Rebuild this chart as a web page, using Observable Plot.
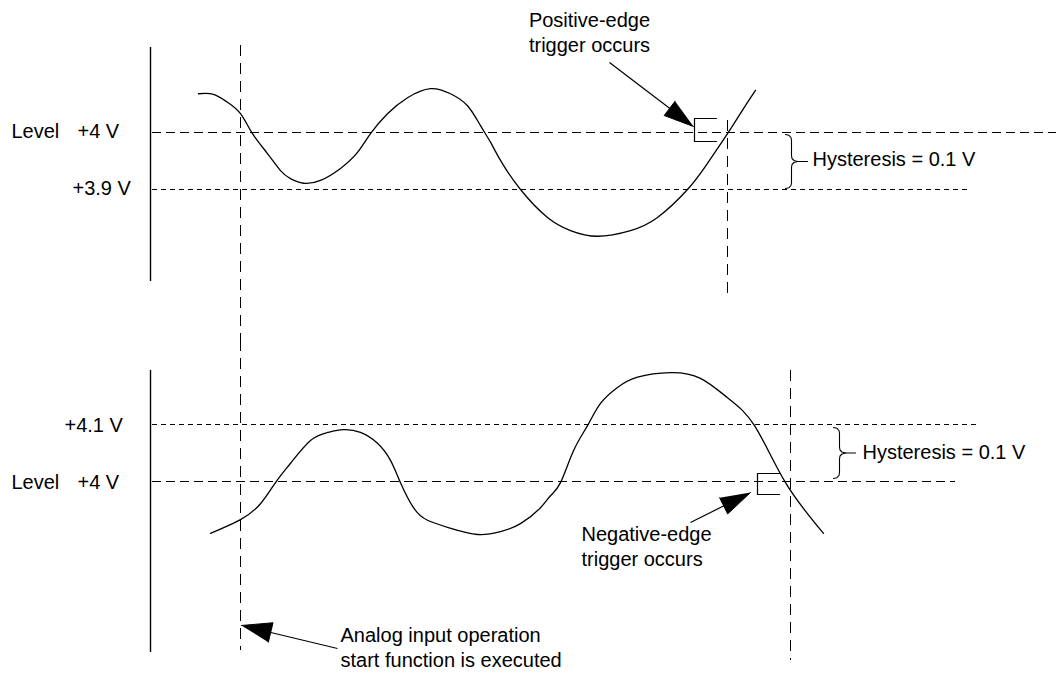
<!DOCTYPE html>
<html>
<head>
<meta charset="utf-8">
<script src="https://cdn.jsdelivr.net/npm/d3@7"></script>
<script src="https://cdn.jsdelivr.net/npm/@observablehq/plot@0.6"></script>
<style>
  html, body { margin: 0; padding: 0; background: #fff; overflow: hidden; }
  #chart svg { display: block; }
</style>
</head>
<body>
<div id="chart"></div>
<script>
// ---------------- DATA (time units, volts) ----------------
// Positive-edge panel waveform
const posTime  = [198, 213, 227, 240, 252, 267, 280, 290, 303, 320, 340, 357, 370, 387, 407, 430, 450, 467, 480, 490, 500, 520, 547, 570, 597, 630, 657, 687, 707, 727, 743, 755];
const posVolts = [4.068, 4.067, 4.053, 4.033, 3.998, 3.963, 3.933, 3.919, 3.911, 3.916, 3.937, 3.965, 3.998, 4.033, 4.061, 4.077, 4.068, 4.047, 4.012, 3.983, 3.951, 3.900, 3.851, 3.828, 3.818, 3.828, 3.851, 3.900, 3.946, 3.998, 4.042, 4.074];
// Negative-edge panel waveform
const negTime  = [210, 240, 260, 275, 290, 310, 327, 343, 360, 377, 390, 400, 413, 427, 450, 477, 500, 520, 540, 550, 560, 573, 587, 600, 617, 637, 670, 700, 727, 754, 785, 823];
const negVolts = [3.909, 3.933, 3.961, 3.998, 4.032, 4.072, 4.086, 4.091, 4.086, 4.067, 4.037, 3.998, 3.954, 3.932, 3.918, 3.907, 3.912, 3.926, 3.954, 3.975, 3.998, 4.054, 4.098, 4.137, 4.165, 4.183, 4.191, 4.181, 4.147, 4.098, 3.998, 3.909];

// Levels (volts)
const levelVolts   = 4.0;
const posLowVolts  = 3.9;
const negHighVolts = 4.1;
const hysteresis   = "Hysteresis = 0.1 V";

// Trigger / start instants (time units)
const startTime   = 240;
const posTrigTime = 727;
const negTrigTime = 790;

// Level labels
const posLabels = [
  {t: 11, v: 3.9895, text: "Level"},
  {t: 77, v: 3.9895, text: "+4 V"},
  {t: 72, v: 3.8895, text: "+3.9 V"}
];
const negLabels = [
  {t: 64, v: 4.0860, text: "+4.1 V"},
  {t: 11, v: 3.9877, text: "Level"},
  {t: 77, v: 3.9877, text: "+4 V"}
];

// ---------------- LAYOUT ----------------
const W = 1056;
const PX_PER_V = 570;            // vertical scale of both panels
const topH = 340, botH = 341;
const topLevelPx = 132, botLevelPx = 141;
const FONT = "'Liberation Sans', Arial, Helvetica, sans-serif";

const topDomain = [levelVolts - (topH - topLevelPx) / PX_PER_V, levelVolts + topLevelPx / PX_PER_V];
const botDomain = [levelVolts - (botH - botLevelPx) / PX_PER_V, levelVolts + botLevelPx / PX_PER_V];

const posWave = posTime.map((t, i) => ({t, v: posVolts[i]}));
const negWave = negTime.map((t, i) => ({t, v: negVolts[i]}));

// convert a pixel offset (relative to an anchor in data space) back into data
const off = (t0, v0, dx, dy) => ({t: t0 + dx, v: v0 - dy / PX_PER_V});

// filled triangular arrowhead, built in pixel space
function arrowHead(tail, tip, len = 30, half = 9, id = "a") {
  const dx = tip.t - tail.t, dy = -(tip.v - tail.v) * PX_PER_V;
  const d = Math.hypot(dx, dy), ux = dx / d, uy = dy / d;
  const bx = -ux * len, by = -uy * len;
  return [
    {...off(tip.t, tip.v, 0, 0), id},
    {...off(tip.t, tip.v, bx - uy * half, by + ux * half), id},
    {...off(tip.t, tip.v, bx + uy * half, by - ux * half), id}
  ];
}
function arrowShaft(tail, tip, len = 30) {
  const dx = tip.t - tail.t, dy = -(tip.v - tail.v) * PX_PER_V;
  const d = Math.hypot(dx, dy);
  const k = (d - len + 2) / d;
  return [{x1: tail.t, y1: tail.v, x2: tail.t + dx * k, y2: tail.v - dy * k / PX_PER_V}];
}
// curly brace from vTop to vBot at time t0, opening to the right
function brace(t0, vTop, vBot, id) {
  const h = (vTop - vBot) * PX_PER_V, m = h / 2;
  const upper = [[0,0],[3.5,0.8],[5.5,3],[6,6],[6,m-6],[6.5,m-3],[8.5,m-1],[12,m],[22,m]];
  const lower = [[12,m],[8.5,m+1],[6.5,m+3],[6,m+6],[6,h-6],[5.5,h-3],[3.5,h-0.8],[0,h]];
  return [
    ...upper.map(([x, y]) => ({...off(t0, vTop, x, y), id: id + "u"})),
    ...lower.map(([x, y]) => ({...off(t0, vTop, x, y), id: id + "l"}))
  ];
}
function bracket(t0, t1, vTop, vBot) {
  return [{t: t1, v: vTop}, {t: t0, v: vTop}, {t: t0, v: vBot}, {t: t1, v: vBot}];
}

const txt = {fontSize: 20, fontFamily: FONT, textAnchor: "start", lineAnchor: "bottom", lineHeight: 1.25, fill: "#000"};

// ---------------- TOP PANEL ----------------
const posTail = {t: 609, v: 4.1228}, posTip = {t: 693, v: 4.0105};
const topPlot = Plot.plot({
  width: W, height: topH,
  margin: 0,
  x: {domain: [0, W], axis: null},
  y: {domain: topDomain, axis: null},
  style: {fontFamily: FONT, background: "#fff", color: "#000"},
  marks: [
    Plot.ruleX([150], {y1: 4.1491, y2: 3.7386, stroke: "#000", strokeWidth: 1.4}),
    Plot.ruleY([levelVolts], {x1: 152, x2: W, stroke: "#000", strokeWidth: 1, strokeDasharray: "9,5"}),
    Plot.ruleY([posLowVolts], {x1: 152, x2: 968, stroke: "#000", strokeWidth: 1, strokeDasharray: "5,4"}),
    Plot.ruleX([startTime], {y1: 4.1526, y2: topDomain[0], stroke: "#000", strokeWidth: 1, strokeDasharray: "11,7"}),
    Plot.ruleX([posTrigTime], {y1: 4.0211, y2: 3.7053, stroke: "#000", strokeWidth: 1, strokeDasharray: "11,7"}),
    Plot.line(posWave, {x: "t", y: "v", curve: "natural", stroke: "#000", strokeWidth: 1.3}),
    Plot.line(bracket(694, 716, 4.0246, 3.9842), {x: "t", y: "v", stroke: "#000", strokeWidth: 1.2}),
    Plot.link(arrowShaft(posTail, posTip, 30), {x1: "x1", y1: "y1", x2: "x2", y2: "y2", stroke: "#000", strokeWidth: 1.2}),
    Plot.line(arrowHead(posTail, posTip, 30, 9), {x: "t", y: "v", fill: "#000", stroke: "#000", strokeWidth: 1}),
    Plot.line(brace(785, levelVolts - 2 / PX_PER_V, posLowVolts + 1 / PX_PER_V, "b"), {x: "t", y: "v", z: "id", stroke: "#000", strokeWidth: 1.1}),
    Plot.text(posLabels, {x: "t", y: "v", text: "text", ...txt}),
    Plot.text([hysteresis], {x: 812, y: 3.9404, text: d => d, ...txt}),
    Plot.text(["Positive-edge\ntrigger occurs"], {x: 589, y: 4.1404, text: d => d, ...txt, textAnchor: "middle"})
  ]
});

// ---------------- BOTTOM PANEL ----------------
const negTail = {t: 690, v: 3.9281}, negTip = {t: 750, v: 3.9807};
const startTail = {t: 337, v: 3.7070}, startTip = {t: 241, v: 3.7474};
const botPlot = Plot.plot({
  width: W, height: botH,
  margin: 0,
  x: {domain: [0, W], axis: null},
  y: {domain: botDomain, axis: null},
  style: {fontFamily: FONT, background: "#fff", color: "#000"},
  marks: [
    Plot.ruleX([150], {y1: 4.1947, y2: 3.7000, stroke: "#000", strokeWidth: 1.4}),
    Plot.ruleY([negHighVolts], {x1: 152, x2: 980, stroke: "#000", strokeWidth: 1, strokeDasharray: "5,4"}),
    Plot.ruleY([levelVolts], {x1: 152, x2: 955, stroke: "#000", strokeWidth: 1, strokeDasharray: "9,5"}),
    Plot.ruleX([startTime], {y1: botDomain[1], y2: 3.7035, stroke: "#000", strokeWidth: 1, strokeDasharray: "11,7"}),
    Plot.ruleX([negTrigTime], {y1: 4.1947, y2: 3.6860, stroke: "#000", strokeWidth: 1, strokeDasharray: "11,7"}),
    Plot.line(negWave, {x: "t", y: "v", curve: "natural", stroke: "#000", strokeWidth: 1.3}),
    Plot.line(bracket(757, 779, 4.0140, 3.9772), {x: "t", y: "v", stroke: "#000", strokeWidth: 1.2}),
    Plot.link(arrowShaft(negTail, negTip, 30), {x1: "x1", y1: "y1", x2: "x2", y2: "y2", stroke: "#000", strokeWidth: 1.2}),
    Plot.line(arrowHead(negTail, negTip, 30, 9, "n"), {x: "t", y: "v", fill: "#000", stroke: "#000", strokeWidth: 1}),
    Plot.link(arrowShaft(startTail, startTip, 30), {x1: "x1", y1: "y1", x2: "x2", y2: "y2", stroke: "#000", strokeWidth: 1.2}),
    Plot.line(arrowHead(startTail, startTip, 30, 10, "s"), {x: "t", y: "v", fill: "#000", stroke: "#000", strokeWidth: 1}),
    Plot.line(brace(833, negHighVolts - 3 / PX_PER_V, levelVolts + 3 / PX_PER_V, "c"), {x: "t", y: "v", z: "id", stroke: "#000", strokeWidth: 1.1}),
    Plot.text(negLabels, {x: "t", y: "v", text: "text", ...txt}),
    Plot.text([hysteresis], {x: 862, y: 4.0386, text: d => d, ...txt}),
    Plot.text(["Negative-edge\ntrigger occurs"], {x: 581, y: 3.8526, text: d => d, ...txt}),
    Plot.text(["Analog input operation\nstart function is executed"], {x: 340, y: 3.6737, text: d => d, ...txt})
  ]
});

const chart = document.getElementById("chart");
chart.appendChild(topPlot);
chart.appendChild(botPlot);
</script>
</body>
</html>
